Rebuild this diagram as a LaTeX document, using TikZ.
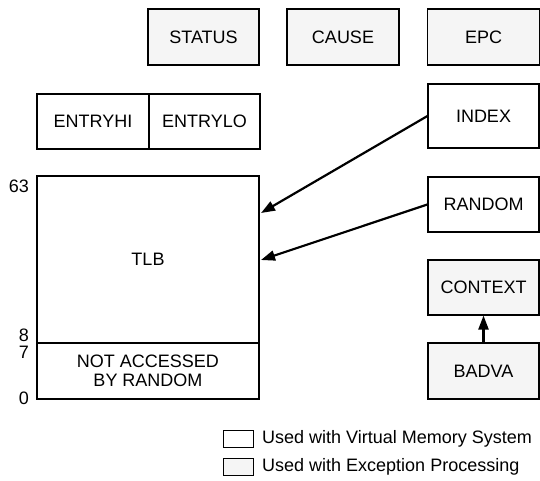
\documentclass[tikz,border=0pt]{standalone}
\usepackage{fontspec}
\setmainfont{Liberation Sans}
\usetikzlibrary{arrows.meta}
\begin{document}
\begin{tikzpicture}[x=1pt,y=-1pt,
  txt/.style={font=\fontsize{18}{19}\selectfont},
  reg/.style={draw, line width=1.1pt, inner sep=0pt, txt},
  exc/.style={reg, fill=black!4},
  conn/.style={line width=2.2pt, -{Triangle[length=14pt,width=10pt]}},
  num/.style={txt, anchor=east, inner sep=0pt}]
\useasboundingbox (0,0) rectangle (540,481);
\fill[white] (0,0) rectangle (540,481);
% top row
\node[exc, minimum width=111pt, minimum height=56pt] (status) at (203.5,37) {STATUS};
\node[exc, minimum width=112pt, minimum height=56pt] (cause) at (343,37) {CAUSE};
\node[exc, minimum width=112pt, minimum height=56pt] (epc) at (483.5,37) {EPC};
% entry
\node[reg, minimum width=112pt, minimum height=55pt] (entryhi) at (93,121.5) {ENTRYHI};
\node[reg, minimum width=111pt, minimum height=55pt] (entrylo) at (204.5,121.5) {ENTRYLO};
% right column
\node[reg, minimum width=111pt, minimum height=64pt] (index) at (483.5,116) {INDEX};
\node[reg, minimum width=111pt, minimum height=55pt] (random) at (483.5,204.5) {RANDOM};
\node[exc, minimum width=111pt, minimum height=55pt] (context) at (483.5,287.5) {CONTEXT};
\node[exc, minimum width=111pt, minimum height=56pt] (badva) at (483.5,371) {BADVA};
% TLB
\node[reg, minimum width=222pt, minimum height=167pt] (tlb) at (148,259.5) {TLB};
\node[reg, minimum width=222pt, minimum height=56pt, align=center] (notacc) at (148,371) {NOT ACCESSED\\BY RANDOM};
% numbers
\node[num] (n63) at (29,186) {63};
\node[num] (n8) at (29,335) {8};
\node[num] (n7) at (29,352) {7};
\node[num] (n0) at (29,398) {0};
% arrows
\coordinate (t1) at (261,213);
\coordinate (t2) at (261,260);
\draw[conn] (index.west) -- (t1);
\draw[conn] (random.west) -- (t2);
\draw[conn] (badva.north) -- (context.south);
% legend
\node[reg, minimum width=30pt, minimum height=17pt] (leg1) at (238.5,439) {};
\node[exc, minimum width=30pt, minimum height=17pt] (leg2) at (238.5,467) {};
\node[txt, anchor=west, inner sep=0pt] (legt1) at (262,439) {Used with Virtual Memory System};
\node[txt, anchor=west, inner sep=0pt] (legt2) at (262,467) {Used with Exception Processing};
\end{tikzpicture}
\end{document}
